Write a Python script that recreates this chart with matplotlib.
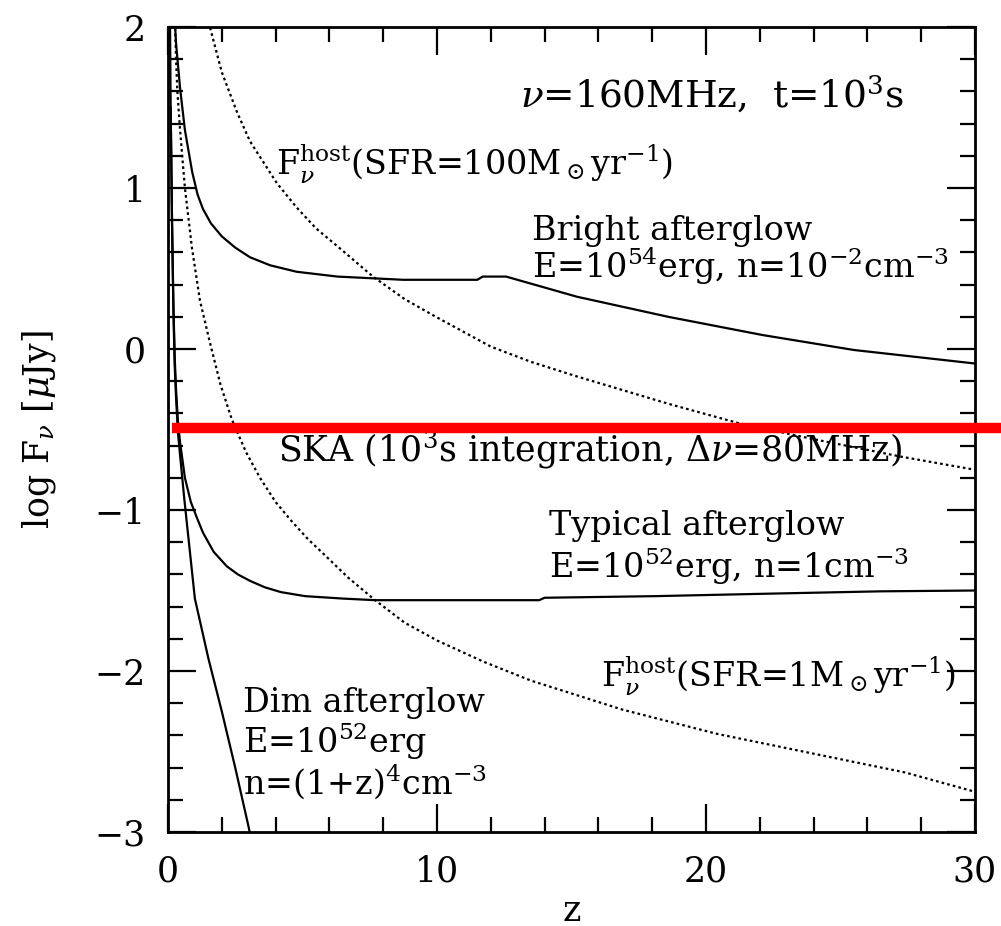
import matplotlib
matplotlib.use("Agg")
import matplotlib.pyplot as plt
from matplotlib.ticker import MultipleLocator

# afterglow light curves at nu=160MHz, t=1e3 s
bright_z = [0.15, 0.2, 0.25, 0.3, 0.45, 0.63, 0.9, 1.1, 1.3, 1.6, 2.0, 2.5, 3.05, 3.8, 4.78, 6.3,
            8.75, 11.5, 11.7, 12.57, 15.2, 18.6, 22.1, 25.5, 30.0]
bright_y = [2.6, 2.3, 2.05, 1.9, 1.62, 1.36, 1.1, 0.96, 0.87, 0.78, 0.70, 0.63, 0.57, 0.52, 0.48,
            0.45, 0.43, 0.43, 0.45, 0.45, 0.325, 0.20, 0.087, -0.006, -0.09]

typical_z = [0.1, 0.15, 0.2, 0.25, 0.3, 0.37, 0.45, 0.63, 0.85, 1.08, 1.3, 1.7, 2.19, 2.6, 3.05,
             3.6, 4.2, 5.1, 6.5, 7.7, 10.0, 13.8, 14.0, 18.1, 22.2, 26.5, 30.0]
typical_y = [1.5, 0.8, 0.3, -0.05, -0.25, -0.45, -0.58, -0.8, -0.95, -1.05, -1.14, -1.26, -1.35,
             -1.40, -1.44, -1.48, -1.51, -1.535, -1.55, -1.56, -1.56, -1.56, -1.545, -1.535,
             -1.52, -1.505, -1.50]

dim_z = [0.05, 0.1, 0.15, 0.2, 0.25, 0.3, 0.37, 0.6, 1.0, 1.5, 2.0, 2.5, 3.0, 3.1]
dim_y = [2.6, 1.5, 0.8, 0.25, -0.1, -0.3, -0.52, -0.92, -1.55, -1.92, -2.25, -2.6, -2.97, -3.05]

# host galaxy flux
host100_z = [1.4, 1.56, 2.0, 2.57, 3.05, 4.05, 4.78, 5.5, 6.5, 7.62, 8.8, 9.96, 12.0, 13.5, 15.2,
             18.6, 21.2, 24.0, 27.3, 30.0]
host100_y = [2.1, 2.0, 1.72, 1.47, 1.29, 1.03, 0.88, 0.75, 0.61, 0.45, 0.31, 0.20, 0.015, -0.08,
             -0.17, -0.34, -0.46, -0.56, -0.67, -0.75]

host1_z = [0.2, 0.25, 0.3, 0.35, 0.45, 0.63, 0.89, 1.19, 1.56, 1.95, 2.38, 2.9, 3.42, 4.0, 4.6,
           5.2, 5.83, 6.7, 7.7, 8.8, 10.0, 11.7, 13.5, 16.9, 20.4, 23.9, 27.4, 30.0]
host1_y = [2.4, 2.1, 1.8, 1.6, 1.36, 1.0, 0.63, 0.30, 0.04, -0.22, -0.44, -0.64, -0.80, -0.95,
           -1.07, -1.18, -1.28, -1.42, -1.56, -1.70, -1.81, -1.94, -2.06, -2.24, -2.39, -2.51,
           -2.63, -2.75]

ska_limit = -0.49

plt.rcParams['font.family'] = 'DejaVu Serif'
plt.rcParams['mathtext.fontset'] = 'dejavuserif'

fig = plt.figure(figsize=(10.01, 9.26), dpi=100)
ax = fig.add_axes([0.1678, 0.1015, 0.8062, 0.8693])

ax.plot(bright_z, bright_y, color='black', lw=1.6)
ax.plot(typical_z, typical_y, color='black', lw=1.6)
ax.plot(dim_z, dim_y, color='black', lw=1.6)
ax.plot(host100_z, host100_y, color='black', lw=1.6, ls=(0, (1.2, 1.4)))
ax.plot(host1_z, host1_y, color='black', lw=1.6, ls=(0, (1.2, 1.4)))

ax.plot([0.15, 31.5], [ska_limit, ska_limit], color='#ff0000', lw=7.5, clip_on=False,
        solid_capstyle='butt', zorder=5)

ax.set_xlim(0, 30)
ax.set_ylim(-3, 2)
ax.xaxis.set_major_locator(MultipleLocator(10))
ax.xaxis.set_minor_locator(MultipleLocator(2))
ax.yaxis.set_major_locator(MultipleLocator(1))
ax.yaxis.set_minor_locator(MultipleLocator(0.2))
ax.tick_params(which='both', direction='in', top=True, right=True, width=1.6)
ax.tick_params(which='major', length=20, labelsize=25, pad=16)
ax.tick_params(which='minor', length=10.5)
for s in ax.spines.values():
    s.set_linewidth(2)

ax.set_xlabel('z', fontsize=25, labelpad=4)
ax.set_ylabel(r'log F$_\nu$ [$\mu$Jy]', fontsize=25, labelpad=26)

fs = 24
ax.text(13.1, 1.497, r'$\nu$=160MHz,  t=10$^3$s', fontsize=fs + 3, va='baseline')
ax.text(4.0, 1.08, r'F$_\nu^{\rm host}$(SFR=100M$_\odot$yr$^{-1}$)', fontsize=fs, va='baseline')
ax.text(13.53, 0.677, 'Bright afterglow', fontsize=fs, va='baseline')
ax.text(13.53, 0.441, r'E=10$^{54}$erg, n=10$^{-2}$cm$^{-3}$', fontsize=fs, va='baseline')
ax.text(4.09, -0.70, r'SKA (10$^3$s integration, $\Delta\nu$=80MHz)', fontsize=fs + 1, va='baseline')
ax.text(14.16, -1.155, 'Typical afterglow', fontsize=fs, va='baseline')
ax.text(14.16, -1.42, r'E=10$^{52}$erg, n=1cm$^{-3}$', fontsize=fs, va='baseline')
ax.text(16.1, -2.10, r'F$_\nu^{\rm host}$(SFR=1M$_\odot$yr$^{-1}$)', fontsize=fs, va='baseline')
ax.text(2.79, -2.255, 'Dim afterglow', fontsize=fs, va='baseline')
ax.text(2.79, -2.51, r'E=10$^{52}$erg', fontsize=fs, va='baseline')
ax.text(2.79, -2.76, r'n=(1+z)$^4$cm$^{-3}$', fontsize=fs, va='baseline')

fig.savefig('out.png', dpi=100)
